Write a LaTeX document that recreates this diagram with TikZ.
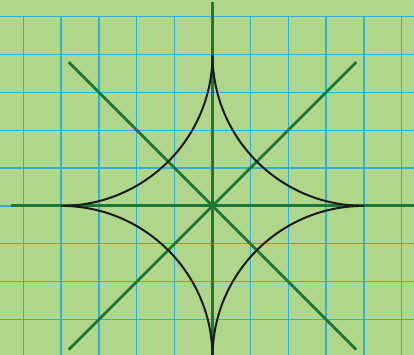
\documentclass[tikz,border=0pt]{standalone}
\definecolor{bgc}{RGB}{175,214,138}
\definecolor{gridc}{RGB}{48,178,212}
\definecolor{axc}{RGB}{32,118,52}
\definecolor{curvec}{RGB}{26,26,26}
\begin{document}
\begin{tikzpicture}[
  gridline/.style={draw=gridc, line width=1pt},
  axisline/.style={draw=axc, line width=2.1pt},
  astroid/.style={draw=curvec, line width=1.5pt, line join=miter}
]
\useasboundingbox (-5.616,-3.940) rectangle (5.325,5.441);
\fill[bgc] (-5.616,-3.940) rectangle (5.325,5.441);
\begin{scope}
\clip (-5.616,-3.940) rectangle (5.325,5.441);
\draw[gridline] (-6,-4.5) grid (6,5);
\draw[gridline] (-6,5) -- (6,5);
\draw[axisline] (-5.33,0) -- (5.5,0);
\draw[axisline] (0,-5.5) -- (0,5.38);
\draw[axisline] (-3.8,3.8) -- (3.8,-3.8);
\draw[axisline] (-3.8,-3.8) -- (3.8,3.8);
\draw[astroid] (0,4) arc[start angle=0, end angle=-90, radius=4]
  arc[start angle=90, end angle=0, radius=4]
  arc[start angle=180, end angle=90, radius=4]
  arc[start angle=270, end angle=180, radius=4];
\end{scope}
\end{tikzpicture}
\end{document}
